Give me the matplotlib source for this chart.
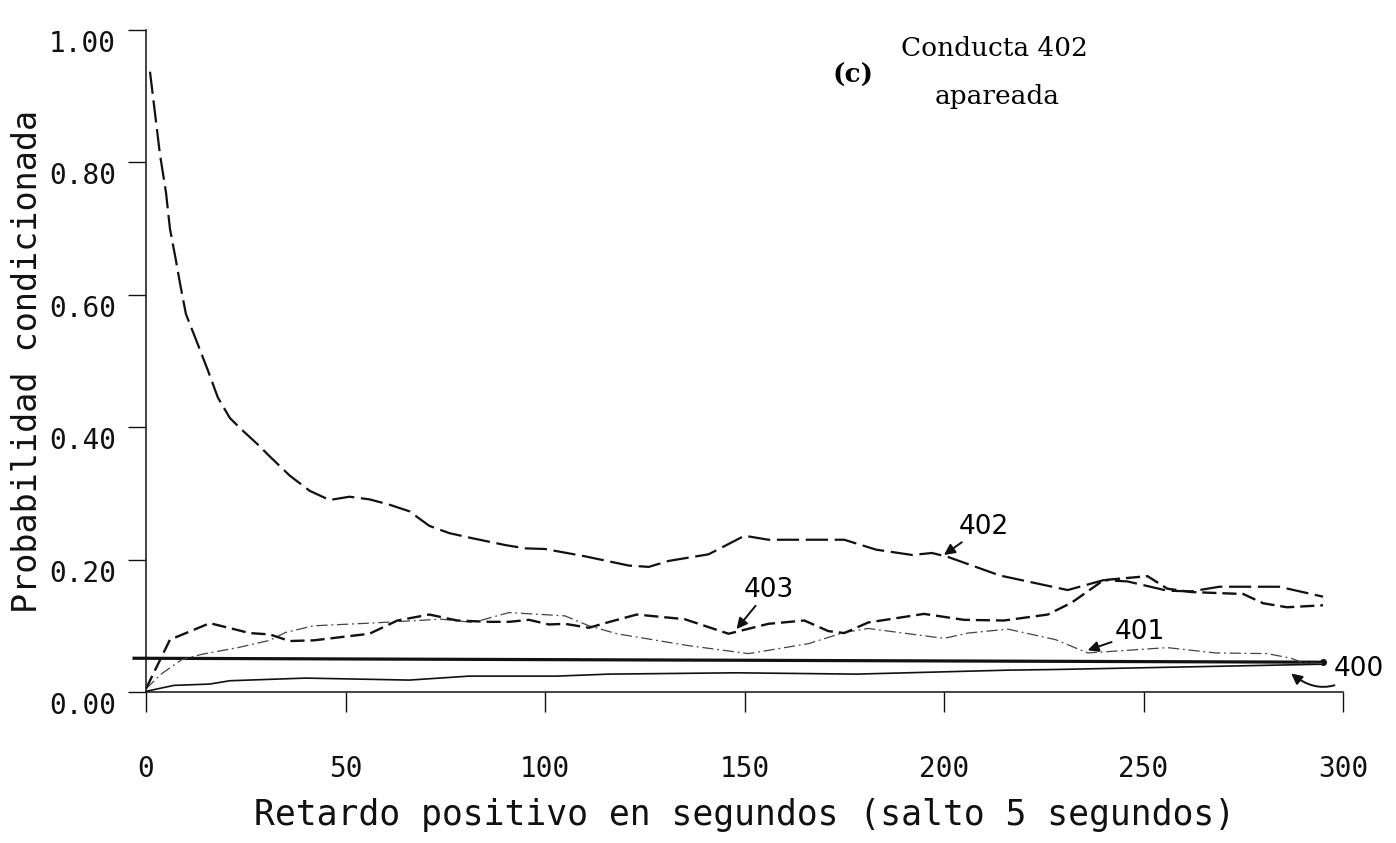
import matplotlib
matplotlib.use('Agg')
import matplotlib.pyplot as plt

# Conducta 402 apareada: probabilidad condicionada frente al retardo (s)
lags_402 = [1, 3.5, 5, 6, 7.5, 8.5, 10, 13, 15.5, 18, 21, 23.5, 28, 31, 36, 41, 46, 51, 56, 61,
            66, 71, 76, 82, 90, 95, 100, 110, 121, 126, 131, 137, 141, 150, 156, 166, 175, 183,
            192, 197, 201, 214, 231, 240, 246, 256, 262, 269, 284, 295]
prob_402 = [0.937, 0.812, 0.755, 0.700, 0.652, 0.618, 0.571, 0.525, 0.486, 0.445, 0.414, 0.399,
            0.374, 0.356, 0.327, 0.304, 0.290, 0.295, 0.291, 0.283, 0.273, 0.251, 0.240, 0.232,
            0.222, 0.217, 0.216, 0.205, 0.191, 0.189, 0.198, 0.204, 0.208, 0.236, 0.230, 0.230,
            0.230, 0.215, 0.207, 0.210, 0.204, 0.176, 0.154, 0.169, 0.167, 0.153, 0.152, 0.159,
            0.159, 0.144]

lags_403 = [0, 6, 16, 26, 31, 36, 42, 56, 63, 71, 78, 86, 91, 96, 101, 105, 111, 115, 123, 135,
            146, 156, 165, 171, 175, 181, 195, 205, 215, 226, 232, 240, 251, 256, 262, 275, 280,
            286, 295]
prob_403 = [0.005, 0.079, 0.104, 0.089, 0.087, 0.077, 0.078, 0.088, 0.108, 0.117, 0.108, 0.106,
            0.106, 0.109, 0.102, 0.103, 0.097, 0.104, 0.117, 0.110, 0.088, 0.103, 0.108, 0.092,
            0.089, 0.105, 0.118, 0.109, 0.108, 0.117, 0.135, 0.169, 0.175, 0.156, 0.151, 0.148,
            0.134, 0.128, 0.131]

lags_401 = [0, 4, 9, 14, 23, 31, 35, 42, 56, 68, 74, 82, 91, 105, 111, 118, 136, 151, 166, 175,
            181, 200, 206, 216, 228, 236, 256, 268, 281, 287, 290, 295]
prob_401 = [0.005, 0.028, 0.049, 0.057, 0.067, 0.078, 0.090, 0.100, 0.104, 0.108, 0.110, 0.105,
            0.120, 0.115, 0.100, 0.088, 0.070, 0.058, 0.073, 0.090, 0.096, 0.081, 0.089, 0.095,
            0.079, 0.059, 0.067, 0.059, 0.058, 0.051, 0.044, 0.043]

lags_400 = [0, 7, 16, 21, 40, 66, 81, 103, 116, 148, 178, 216, 228, 295]
prob_400 = [0.001, 0.010, 0.012, 0.017, 0.021, 0.018, 0.024, 0.024, 0.027, 0.029, 0.027, 0.033,
            0.034, 0.042]

# probabilidad incondicionada (recta de referencia)
ref_lags = [-3, 295]
ref_prob = [0.051, 0.045]

x_ticks = [0, 50, 100, 150, 200, 250, 300]
y_ticks = [0.0, 0.2, 0.4, 0.6, 0.8, 1.0]
y_tick_labels = ['0.00', '0.20', '0.40', '0.60', '0.80', '1.00']

MONO = 'DejaVu Sans Mono'
INK = '#111111'


def draw_graph() -> None:
    """Probabilidad condicionada con retardo positivo"""
    fig = plt.figure(figsize=(13.96, 8.43), dpi=100)
    ax = fig.add_axes([146 / 1396, 1 - 692 / 843, 1197 / 1396, 662 / 843])

    ax.plot(ref_lags, ref_prob, '-', color=INK, linewidth=2.3, clip_on=False)
    ax.plot(ref_lags[-1], ref_prob[-1], 'o', color=INK, markersize=4)
    ax.plot(lags_400, prob_400, '-', color=INK, linewidth=1.2)
    ax.plot(lags_401, prob_401, color='#444444', linewidth=0.9, dashes=(9, 3, 1.5, 3))
    ax.plot(lags_403, prob_403, color=INK, linewidth=1.7, dashes=(6, 2.5))
    ax.plot(lags_402, prob_402, color=INK, linewidth=1.6, dashes=(10, 3))

    ax.set_xlim(0, 300)
    ax.set_ylim(0, 1.0)
    for side in ('top', 'right'):
        ax.spines[side].set_visible(False)
    for side in ('left', 'bottom'):
        ax.spines[side].set_linewidth(1.1)
        ax.spines[side].set_color(INK)

    ax.set_xticks(x_ticks, [str(t) for t in x_ticks], family=MONO, fontsize=20)
    ax.set_yticks(y_ticks, y_tick_labels, family=MONO, fontsize=20, va='top')
    ax.tick_params(axis='x', direction='out', length=14.4, width=1.0, pad=31, colors=INK)
    ax.tick_params(axis='y', direction='out', length=13, width=1.0, pad=8.5, colors=INK)

    ax.set_xlabel('Retardo positivo en segundos (salto 5 segundos)',
                  family=MONO, fontsize=25, labelpad=11, color=INK)
    ax.set_ylabel('Probabilidad condicionada', family=MONO, fontsize=24, labelpad=4, color=INK)

    fig.text(0.611, 0.911, '(c)', family='DejaVu Serif', fontweight='bold', fontsize=19,
             ha='center', va='center')
    fig.text(0.712, 0.942, 'Conducta 402', family='DejaVu Serif', fontsize=19,
             ha='center', va='center')
    fig.text(0.714, 0.886, 'apareada', family='DejaVu Serif', fontsize=19,
             ha='center', va='center')

    arrow = dict(arrowstyle='-|>', color=INK, lw=1.4, mutation_scale=16, shrinkA=0, shrinkB=0)
    ax.annotate('402', xy=(200, 0.207), xytext=(210, 0.25), fontsize=19,
                ha='center', va='center', arrowprops=arrow)
    ax.annotate('403', xy=(148, 0.095), xytext=(156, 0.154), fontsize=19,
                ha='center', va='center', arrowprops=arrow)
    ax.annotate('401', xy=(236, 0.063), xytext=(249, 0.09), fontsize=19,
                ha='center', va='center', arrowprops=arrow)
    ax.annotate('400', xy=(287, 0.028), xytext=(304, 0.034), fontsize=19,
                ha='center', va='center', annotation_clip=False,
                arrowprops=dict(arrow, connectionstyle='arc3,rad=-0.45'))

    fig.savefig('out.png', dpi=100)


draw_graph()
